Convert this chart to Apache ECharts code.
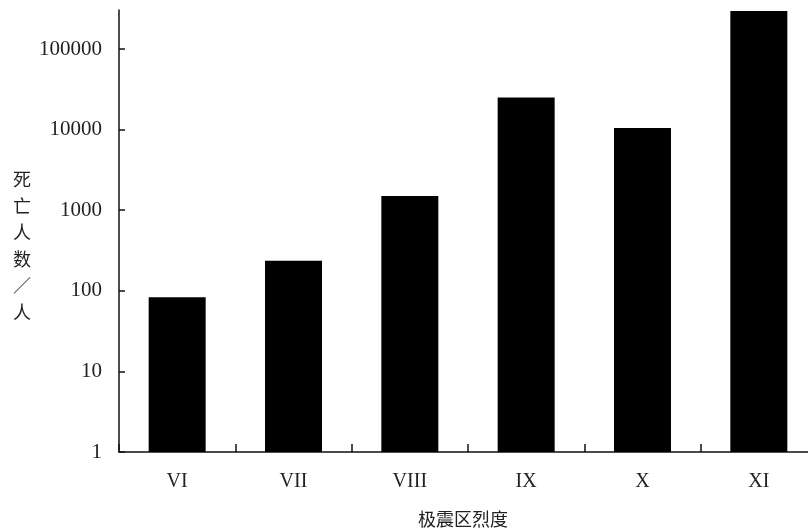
<!DOCTYPE html>
<html>
<head>
<meta charset="utf-8">
<script src="https://cdn.jsdelivr.net/npm/echarts@6/dist/echarts.min.js"></script>
<style>
  html, body { margin: 0; padding: 0; background: #fff; }
  #chart { width: 808px; height: 530px; }
</style>
</head>
<body>
<div id="chart"></div>
<script>
// Death toll by epicentral intensity (log scale)
const categories = ['VI', 'VII', 'VIII', 'IX', 'X', 'XI'];
const deaths = [83, 236, 1500, 25000, 10500, 296000];
const yTicks = [1, 10, 100, 1000, 10000, 100000];

const chart = echarts.init(document.getElementById('chart'));

chart.setOption({
  backgroundColor: '#fff',
  animation: false,
  grid: { left: 119, right: -9, top: 10, bottom: 78, containLabel: false, outerBoundsMode: 'none' },
  xAxis: {
    type: 'category',
    data: categories,
    name: '极震区烈度',
    nameLocation: 'middle',
    nameGap: 58,
    nameTextStyle: { fontFamily: 'Noto Sans CJK SC', fontSize: 18, color: '#222', padding: [0, 10, 0, 0] },
    axisLine: { onZero: false, lineStyle: { color: '#111', width: 1.5 } },
    axisTick: { show: true, inside: true, interval: 0, length: 8, lineStyle: { color: '#111', width: 1.5 } },
    axisLabel: { margin: 20, interval: 0, fontFamily: 'Liberation Serif', fontSize: 20, color: '#222' }
  },
  yAxis: {
    type: 'log',
    logBase: 10,
    min: 1,
    max: 305000,
    splitLine: { show: false },
    axisLine: { show: true, lineStyle: { color: '#111', width: 1.5 } },
    axisTick: { show: true, inside: true, length: 6, customValues: yTicks, lineStyle: { color: '#111', width: 1.5 } },
    axisLabel: {
      customValues: yTicks,
      margin: 17,
      fontFamily: 'Liberation Serif',
      fontSize: 21,
      color: '#222',
      formatter: v => String(Math.round(v))
    }
  },
  graphic: [{
    type: 'text',
    left: 13,
    top: 166,
    style: {
      text: '死\n亡\n人\n数\n／\n人',
      fontFamily: 'Noto Sans CJK SC',
      fontSize: 18,
      lineHeight: 26.5,
      fill: '#222'
    }
  }],
  series: [{
    type: 'bar',
    data: deaths,
    barWidth: 57,
    itemStyle: { color: '#000' }
  }]
});
</script>
</body>
</html>
